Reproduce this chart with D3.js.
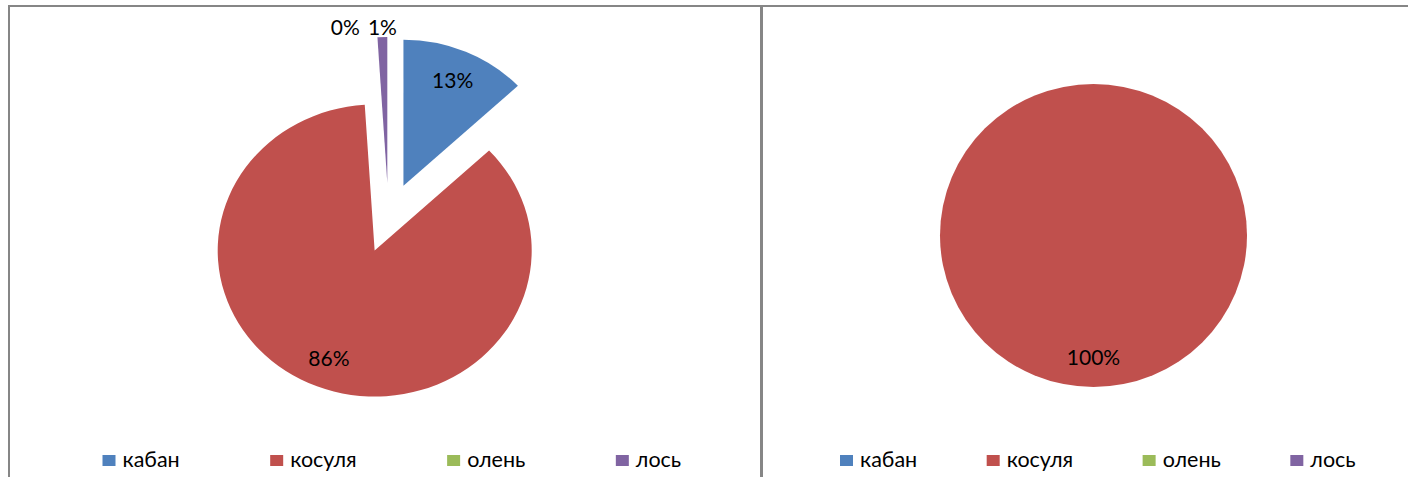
<!DOCTYPE html>
<html>
<head>
<meta charset="utf-8">
<script src="https://cdn.jsdelivr.net/npm/d3@7"></script>
<style>
  html, body { margin: 0; padding: 0; background: #fff; }
  svg { display: block; }
</style>
</head>
<body>
<svg id="chart" width="1408" height="477"></svg>
<script>
// Species and their shares (%) in each of the two panels
const species = ["кабан", "косуля", "олень", "лось"];
const leftShares = [13, 86, 0, 1];
const rightShares = [0, 100, 0, 0];
const speciesColors = ["#4F81BD", "#C0504D", "#9BBB59", "#8064A2"];

const svg = d3.select("#chart");
const FONT = "Lato, 'Noto Sans', sans-serif";
const color = d3.scaleOrdinal().domain(species).range(speciesColors);

// Panel frames
const frame = svg.append("g").attr("fill", "none").attr("stroke", "#868686");
frame.append("line").attr("x1", 8).attr("x2", 1408).attr("y1", 6).attr("y2", 6).attr("stroke-width", 2);
frame.append("line").attr("x1", 9).attr("x2", 9).attr("y1", 5).attr("y2", 477).attr("stroke-width", 2);
frame.append("line").attr("x1", 761.5).attr("x2", 761.5).attr("y1", 5).attr("y2", 477).attr("stroke-width", 3);

function drawPie(opts) {
  const data = species.map((name, i) => ({ name, value: opts.values[i] }));
  const pie = d3.pie().value(d => d.value).sort(null);
  const arcs = pie(data);
  const total = d3.sum(opts.values);
  const arc = d3.arc().innerRadius(0).outerRadius(1);
  const g = svg.append("g");

  const mid = a => (a.startAngle + a.endAngle) / 2;
  // point on the ellipse at angle t (clockwise from top), radius fraction k
  const pt = (t, k) => [opts.cx + k * opts.rx * Math.sin(t), opts.cy - k * opts.ry * Math.cos(t)];

  arcs.forEach(a => {
    if (a.value <= 0) return;
    const m = mid(a);
    const [ox, oy] = pt(m, opts.explode);
    g.append("path")
      .attr("d", arc(a))
      .attr("fill", color(a.data.name))
      .attr("transform", `translate(${ox},${oy}) scale(${opts.rx},${opts.ry})`);
  });

  // Percentage labels: inside for large slices, above the rim for thin ones
  const outside = [];
  arcs.forEach(a => {
    if (a.value <= 0 && !opts.showZero) return;
    const pct = Math.round(a.value / total * 100) + "%";
    const m = mid(a);
    const share = a.value / total;
    if (share >= 0.05) {
      const [x, y] = pt(m, opts.explode + opts.labelK);
      g.append("text")
        .attr("x", x).attr("y", y)
        .attr("text-anchor", "middle").attr("dominant-baseline", "central")
        .attr("font-family", FONT).attr("font-size", opts.labelSize)
        .attr("fill", "#000").text(pct);
    } else {
      const [x, y] = pt(m, opts.explode + 1);
      outside.push({ x, y, pct });
    }
  });
  // lay thin-slice labels out right-to-left so they do not overlap
  outside.sort((p, q) => q.x - p.x);
  let limit = Infinity;
  outside.forEach(o => {
    const t = g.append("text")
      .attr("y", o.y - 2)
      .attr("text-anchor", "start")
      .attr("font-family", FONT).attr("font-size", opts.labelSize)
      .attr("fill", "#000").text(o.pct);
    const w = t.node().getComputedTextLength();
    let left = o.x - w / 2;
    if (left + w > limit - 8) left = limit - 8 - w;
    t.attr("x", left);
    limit = left;
  });

  // Legend: swatch + name, items separated by an equal gap
  const lg = g.append("g");
  let x = opts.legendX;
  species.forEach(name => {
    lg.append("rect")
      .attr("x", x).attr("y", 455).attr("width", 13).attr("height", 11)
      .attr("fill", color(name));
    const t = lg.append("text")
      .attr("x", x + 20).attr("y", 467)
      .attr("font-family", FONT).attr("font-size", 21.5)
      .attr("fill", "#000").text(name);
    x += 20 + t.node().getComputedTextLength() + opts.legendGap;
  });
}

drawPie({
  values: leftShares, cx: 388.5, cy: 218, rx: 157, ry: 146,
  explode: 0.24, labelK: 0.79, labelSize: 21, showZero: true,
  legendX: 102.5, legendGap: 90.5
});

drawPie({
  values: rightShares, cx: 1093.5, cy: 235.5, rx: 153.5, ry: 151.5,
  explode: 0, labelK: 0.8, labelSize: 21, showZero: false,
  legendX: 840, legendGap: 69.5
});
</script>
</body>
</html>
